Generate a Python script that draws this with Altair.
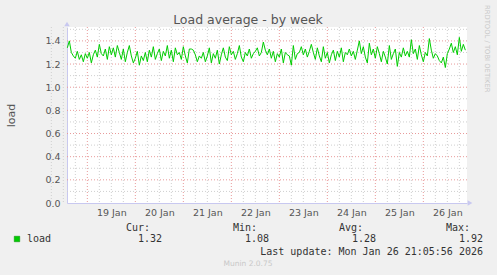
import altair as alt
import pandas as pd

# ---------------- data ----------------
load = [
    1.34, 1.40, 1.30, 1.27, 1.25, 1.31, 1.24, 1.28, 1.22, 1.29, 1.25, 1.30, 1.21, 1.28, 1.32, 1.26, 1.37,
    1.29, 1.27, 1.33, 1.24, 1.35, 1.28, 1.34, 1.26, 1.36, 1.30, 1.24, 1.33, 1.22, 1.30, 1.36, 1.27, 1.21,
    1.25, 1.31, 1.19, 1.27, 1.23, 1.30, 1.22, 1.32, 1.26, 1.35, 1.24, 1.29, 1.33, 1.23, 1.31, 1.27, 1.36,
    1.25, 1.32, 1.22, 1.34, 1.28, 1.30, 1.24, 1.35, 1.27, 1.21, 1.33, 1.33, 1.32, 1.28, 1.22, 1.27, 1.25,
    1.30, 1.22, 1.27, 1.34, 1.21, 1.29, 1.25, 1.32, 1.20, 1.28, 1.34, 1.26, 1.23, 1.35, 1.28, 1.31, 1.24,
    1.29, 1.36, 1.26, 1.22, 1.30, 1.27, 1.33, 1.25, 1.29, 1.31, 1.34, 1.27, 1.30, 1.39, 1.32, 1.28, 1.33,
    1.25, 1.31, 1.22, 1.29, 1.26, 1.33, 1.21, 1.30, 1.28, 1.27, 1.19, 1.36, 1.24, 1.29, 1.30, 1.35, 1.28,
    1.33, 1.26, 1.31, 1.37, 1.30, 1.24, 1.34, 1.27, 1.22, 1.35, 1.25, 1.30, 1.21, 1.28, 1.32, 1.23, 1.31,
    1.26, 1.34, 1.22, 1.30, 1.28, 1.33, 1.27, 1.31, 1.24, 1.32, 1.40, 1.29, 1.35, 1.26, 1.21, 1.38, 1.28,
    1.33, 1.25, 1.35, 1.29, 1.22, 1.31, 1.26, 1.20, 1.36, 1.24, 1.29, 1.33, 1.18, 1.30, 1.26, 1.34, 1.27,
    1.31, 1.26, 1.41, 1.29, 1.33, 1.24, 1.36, 1.28, 1.22, 1.30, 1.27, 1.42, 1.32, 1.25, 1.29, 1.27, 1.23,
    1.21, 1.26, 1.17, 1.29, 1.33, 1.38, 1.30, 1.35, 1.28, 1.43, 1.31, 1.37, 1.32,
]
first_sample = "2026-01-18 14:00"
sample_freq = "h"

day_midnights = ["2026-01-19", "2026-01-20", "2026-01-21", "2026-01-22",
                 "2026-01-23", "2026-01-24", "2026-01-25", "2026-01-26"]
y_major = [0.0, 0.2, 0.4, 0.6, 0.8, 1.0, 1.2, 1.4]
y_minor = [0.1, 0.3, 0.5, 0.7, 0.9, 1.1, 1.3, 1.5]

title_text = "Load average - by week"
y_title = "load"
series_name = "load"
stat_heads = ["Cur:", "Min:", "Avg:", "Max:"]
stat_values = ["1.32", "1.08", "1.28", "1.92"]
last_update = "Last update: Mon Jan 26 21:05:56 2026"
footer = "Munin 2.0.75"
side_text = "RRDTOOL / TOBI OETIKER"

# ---------------- tables ----------------
times = pd.date_range(first_sample, periods=len(load), freq=sample_freq)
df = pd.DataFrame({"time": times.strftime("%Y-%m-%dT%H:%M:%S"), "load": load})

mid = pd.to_datetime(day_midnights)
major_x = pd.DataFrame({"time": mid.strftime("%Y-%m-%dT%H:%M:%S")})
minor_times = []
for d in [mid[0] - pd.Timedelta(hours=24)] + list(mid):
    for h in (6, 12, 18):
        minor_times.append(d + pd.Timedelta(hours=h))
minor_x = pd.DataFrame({"time": [t.strftime("%Y-%m-%dT%H:%M:%S") for t in minor_times]})
label_vals = [alt.DateTime(year=d.year, month=d.month, date=d.day, hours=12) for d in mid]

major_y = pd.DataFrame({"load": y_major[1:]})
minor_y = pd.DataFrame({"load": y_minor})

# ---------------- style ----------------
W, H = 400, 176
PL, PT = 67, 27
FONT = "DejaVu Sans"
MONO = "DejaVu Sans Mono"
TXT = "#555555"
AXIS_C = "#c8c8f0"

x_scale = alt.Scale(domain=[alt.DateTime(year=2026, month=1, date=18, hours=13, minutes=50),
                            alt.DateTime(year=2026, month=1, date=26, hours=21, minutes=50)])
y_scale = alt.Scale(domain=[0, 1.52], nice=False)

x_axis = alt.Axis(values=label_vals, format="%-d %b", grid=False, ticks=False,
                  labelFont=FONT, labelFontSize=9.5, labelColor=TXT, labelPadding=4,
                  domainColor=AXIS_C, labelFlush=False, labelOverlap=False)
y_axis = alt.Axis(values=y_major, format=".1f", grid=False, ticks=False,
                  labelFont=FONT, labelFontSize=9.5, labelColor=TXT, labelPadding=7,
                  labelOverlap=False, labelFlush=False, labelBound=False,
                  domainColor=AXIS_C, titleFont=FONT, titleFontSize=11,
                  titleFontWeight="normal", titleColor=TXT, titleX=-53, titleY=88,
                  titleBaseline="alphabetic", titleAlign="center")
X = alt.X("time:T", scale=x_scale, title=None, axis=x_axis)
Y = alt.Y("load:Q", scale=y_scale, title=y_title, axis=y_axis)

minor_v = alt.Chart(minor_x).mark_rule(color="#cfcfcf", strokeDash=[1, 2], strokeWidth=1).encode(x=X)
major_v = alt.Chart(major_x).mark_rule(color="#e89a9a", strokeDash=[1, 2], strokeWidth=1).encode(x=X)
minor_h = alt.Chart(minor_y).mark_rule(color="#cfcfcf", strokeDash=[1, 2], strokeWidth=1).encode(y=Y)
major_h = alt.Chart(major_y).mark_rule(color="#e89a9a", strokeDash=[1, 2], strokeWidth=1).encode(y=Y)

line = alt.Chart(df).mark_line(color="#00cc00", strokeWidth=1, interpolate="linear").encode(x=X, y=Y)

one = pd.DataFrame({"a": [0]})


def txt(s, x, y, **kw):
    return alt.Chart(one).mark_text(text=s, **kw).encode(x=alt.value(x), y=alt.value(y))


arrows = [
    alt.Chart(one).mark_point(shape="triangle-up", filled=True, color=AXIS_C, size=30, opacity=1).encode(
        x=alt.value(0), y=alt.value(-3)),
    alt.Chart(one).mark_point(shape="triangle-right", filled=True, color=AXIS_C, size=30, opacity=1).encode(
        x=alt.value(W + 3), y=alt.value(H)),
]

texts = [
    txt(title_text, 248 - PL, 24 - PT, font=FONT, fontSize=12.5, color=TXT, align="center",
        baseline="alphabetic"),
    txt(side_text, 487 - PL, 5 - PT, font=FONT, fontSize=6.8, color="#c8c8c8", align="left",
        baseline="middle", angle=90),
    alt.Chart(one).mark_square(color="#00cc00", size=30, opacity=1, stroke="#008800",
                               strokeWidth=0.5).encode(x=alt.value(17 - PL), y=alt.value(239 - PT)),
    txt(series_name, 27 - PL, 239 - PT, font=MONO, fontSize=10, color="#333333", align="left",
        baseline="middle"),
    txt(last_update, 483 - PL, 252 - PT, font=MONO, fontSize=10, color="#333333", align="right",
        baseline="middle"),
    txt(footer, 248 - PL, 264 - PT, font=FONT, fontSize=7.5, color="#c8c8c8", align="center",
        baseline="middle"),
]
head_right = [150, 257, 363, 470]
val_right = [162, 269, 376, 483]
for hd, hx in zip(stat_heads, head_right):
    texts.append(txt(hd, hx - PL, 228 - PT, font=MONO, fontSize=10, color="#333333", align="right",
                     baseline="middle"))
for v, vx in zip(stat_values, val_right):
    texts.append(txt(v, vx - PL, 239 - PT, font=MONO, fontSize=10, color="#333333", align="right",
                     baseline="middle"))

chart = alt.layer(minor_v, minor_h, major_v, major_h, line, *arrows, *texts).properties(
    width=W, height=H,
    autosize=alt.AutoSizeParams(type="none"),
    padding={"left": PL, "top": PT, "right": 497 - PL - W, "bottom": 275 - PT - H},
    background="#f0f0f0",
).configure_view(fill="white", stroke="transparent", strokeWidth=0)

chart.save("out.html", embed_options={"renderer": "svg", "actions": False})
